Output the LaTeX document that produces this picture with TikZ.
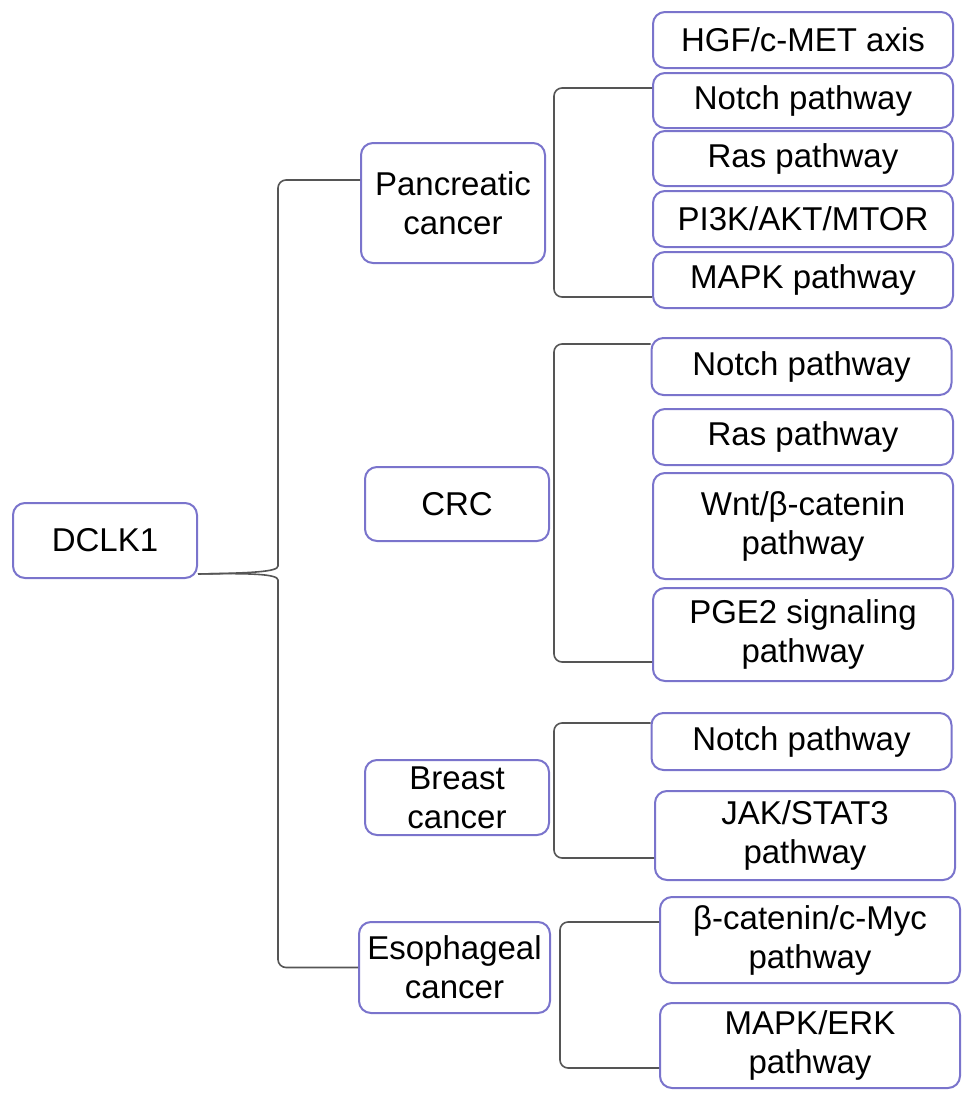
\documentclass[tikz,border=0pt]{standalone}
\usepackage{fontspec}
\setmainfont{Liberation Sans}
\usetikzlibrary{positioning,calc}
\definecolor{bx}{RGB}{122,116,204}
\definecolor{lc}{RGB}{85,85,85}
\tikzset{
  box/.style = { draw=bx, line width=1pt, rounded corners=6pt, fill=white, align=center,
    inner sep=0pt, font=\fontsize{16.5}{19.5}\selectfont },
  ca/.style  = { box, minimum width=92pt },
  pw/.style  = { box, minimum width=150pt, minimum height=#1 },
  pw/.default = 27.5pt,
  br/.style  = { draw=lc, line width=0.8pt, rounded corners=4pt }
}
\begin{document}
\begin{tikzpicture}[x=0.5pt,y=-0.5pt]
      \useasboundingbox (0,0) rectangle (969,1103);
      % root and cancers
      \node[box, minimum width=92pt, minimum height=37.5pt] (v0) at (105,540.5) {DCLK1};
      \node[ca, minimum height=60pt] (v1) at (453,203) {Pancreatic\\cancer};
      \node[ca, minimum height=37pt] (v2) at (457,504) {CRC};
      \node[ca, minimum height=37.5pt] (v3) at (457,797.5) {Breast\\cancer};
      \node[ca, minimum width=95.5pt, minimum height=45.5pt] (v4) at (454.5,967.5) {Esophageal\\cancer};
      % pathways
      \node[pw=28pt] (p1) at (803,40) {HGF/c-MET axis};
      \node[pw] (p2) at (803,100.5) {Notch pathway};
      \node[pw] (p3) at (803,158.5) {Ras pathway};
      \node[pw=28pt] (p4) at (803,219) {PI3K/AKT/MTOR};
      \node[pw=28pt] (p5) at (803,280) {MAPK pathway};
      \node[pw=28.5pt] (p6) at (801.5,366.5) {Notch pathway};
      \node[pw=28pt] (p7) at (803,437) {Ras pathway};
      \node[pw=53pt] (p8) at (803,526) {Wnt/β-catenin\\pathway};
      \node[pw=46.5pt] (p9) at (803,634.5) {PGE2 signaling\\pathway};
      \node[pw=28.5pt] (p10) at (801.5,741.5) {Notch pathway};
      \node[pw=44.5pt] (p11) at (805,835.5) {JAK/STAT3\\pathway};
      \node[pw=43pt] (p12) at (810,940) {β-catenin/c-Myc\\pathway};
      \node[pw=42.5pt] (p13) at (810,1045.5) {MAPK/ERK\\pathway};
      % trunk
      \coordinate (t1) at (278,558);
      \coordinate (t2) at (278,588);
      \draw[br] ([yshift=2.5pt]v0.south east) .. controls (250,573) and (278,572) .. (t1) |- ([yshift=11.5pt]v1.west);
      \draw[br] ([yshift=2.5pt]v0.south east) .. controls (250,573) and (278,574) .. (t2) |- (v4.west);
      % brackets
      \draw[br] ([yshift=6.25pt]p2.west) -| ([xshift=4pt]v1.east) |- ([yshift=-8.5pt]p5.west);
      \draw[br] ([yshift=11.25pt]p6.west) -| ([xshift=2pt]v2.east) |- ([yshift=-13.75pt]p9.west);
      \draw[br] ([yshift=9.25pt]p10.west) -| ([xshift=2pt]v3.east) |- ([yshift=-11.25pt]p11.west);
      \draw[br] ([yshift=9pt]p12.west) -| ([xshift=4.5pt]v4.east) |- ([yshift=-11.25pt]p13.west);
    \end{tikzpicture}
\end{document}
